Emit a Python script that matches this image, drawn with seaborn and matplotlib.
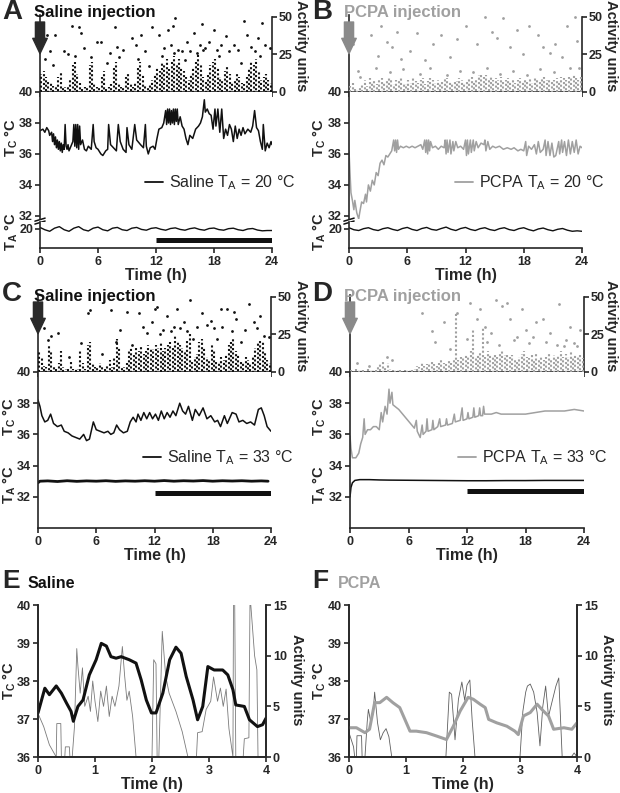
import numpy as np
import seaborn as sns
import matplotlib.pyplot as plt
from matplotlib.lines import Line2D

sns.set_style("ticks")
plt.rcParams["font.family"] = ["Liberation Sans", "DejaVu Sans"]
plt.rcParams["font.weight"] = "bold"
plt.rcParams["axes.labelweight"] = "bold"
plt.rcParams["mathtext.fontset"] = "custom"
plt.rcParams["mathtext.rm"] = "Liberation Sans"
plt.rcParams["mathtext.bf"] = "Liberation Sans:bold"
plt.rcParams["axes.linewidth"] = 1.2
plt.rcParams["xtick.major.width"] = 1.2
plt.rcParams["ytick.major.width"] = 1.2
plt.rcParams["xtick.major.size"] = 3.5
plt.rcParams["ytick.major.size"] = 3.5
plt.rcParams["xtick.major.pad"] = 2
plt.rcParams["ytick.major.pad"] = 1.5
plt.rcParams["xtick.labelsize"] = 9
plt.rcParams["ytick.labelsize"] = 9

BLACK = "#111111"
GREY = "#a0a0a0"

# ---------------- data ----------------
hours_ticks = [0, 6, 12, 18, 24]
dark_phase = (12, 24)

# activity, max height of the dense column in each 15 min bin (0-24 h)
act_a_cols = [12, 14, 10, 8, 6, 4, 3, 10, 14, 4, 3, 3, 8, 18, 20, 12,
              6, 3, 3, 4, 18, 20, 6, 3, 4, 10, 14, 3, 3, 5, 16, 20,
              6, 3, 4, 10, 12, 5, 3, 6, 16, 20, 12, 4, 3, 5, 8, 12,
              16, 14, 20, 18, 22, 15, 20, 24, 18, 22, 16, 14, 10, 8, 12, 16,
              20, 25, 18, 10, 8, 12, 18, 20, 22, 16, 10, 8, 14, 18, 12, 6,
              8, 12, 10, 6, 5, 10, 16, 20, 18, 22, 14, 8, 10, 12, 8, 6]
act_b_cols = [4, 6, 3, 2, 3, 5, 8, 4, 9, 6, 8, 5, 8, 9, 6, 7,
              9, 8, 5, 8, 7, 9, 6, 5, 8, 6, 9, 7, 6, 8, 9, 5,
              7, 9, 8, 6, 8, 6, 7, 9, 9, 7, 6, 8, 7, 9, 8, 6,
              8, 9, 10, 7, 9, 11, 12, 10, 11, 9, 10, 8, 9, 8, 10, 7,
              8, 9, 7, 8, 6, 8, 9, 7, 8, 7, 9, 6, 9, 8, 7, 9,
              10, 8, 9, 7, 8, 9, 7, 10, 9, 8, 10, 9, 11, 9, 8, 10]
act_c_cols = [14, 10, 4, 3, 18, 14, 4, 2, 6, 14, 3, 2, 2, 8, 2, 2,
              2, 14, 6, 2, 18, 20, 6, 3, 3, 6, 3, 2, 4, 8, 3, 10,
              22, 16, 4, 3, 6, 14, 16, 12, 16, 14, 18, 12, 14, 18, 16, 15,
              18, 16, 20, 14, 16, 18, 20, 17, 24, 20, 18, 16, 14, 22, 26, 8,
              10, 12, 20, 22, 16, 10, 8, 18, 14, 8, 6, 10, 8, 12, 18, 20,
              22, 14, 12, 8, 6, 10, 8, 6, 10, 16, 20, 22, 20, 14, 8, 6]
act_d_cols = [0, 0, 2, 0, 0, 0, 0, 3, 0, 0, 0, 4, 6, 8, 4, 6,
              2, 0, 0, 0, 0, 0, 0, 0, 0, 0, 2, 4, 3, 6, 4, 5,
              6, 8, 5, 4, 6, 8, 6, 5, 7, 6, 8, 40, 8, 10, 9, 12,
              10, 14, 28, 10, 12, 14, 30, 10, 14, 12, 10, 12, 10, 12, 14, 11,
              12, 10, 11, 9, 8, 10, 12, 14, 10, 9, 11, 8, 12, 9, 10, 8,
              10, 12, 8, 11, 9, 11, 14, 10, 12, 10, 13, 9, 11, 10, 12, 9]

# isolated activity counts (time h, units)
act_a_dots = [(0.76, 38), (1.6, 38), (2.5, 27), (3.3, 44), (4.0, 43), (4.2, 39),
              (5.9, 33), (6.3, 33), (7.8, 43), (8.0, 30), (9.5, 36), (9.9, 31),
              (10.4, 38), (11.6, 43), (12.3, 38), (13.2, 41), (13.8, 44), (14.0, 49),
              (14.7, 27), (15.2, 33), (15.9, 39), (16.6, 31), (16.8, 45), (17.5, 33),
              (18.0, 41), (18.7, 31), (19.2, 37), (20.1, 31), (21.1, 47), (21.4, 38),
              (22.5, 36), (23.0, 46), (23.3, 31), (23.8, 29), (1.0, 27), (2.9, 25),
              (4.6, 29), (7.2, 26), (8.6, 28), (10.9, 27), (12.8, 29), (13.5, 31),
              (14.3, 28), (15.5, 27), (17.1, 29), (18.3, 28), (19.6, 27), (20.5, 28),
              (21.8, 30), (22.2, 27), (12.6, 24), (16.2, 26), (0.5, 22), (1.3, 18),
              (3.6, 24), (5.3, 23), (6.9, 19), (8.2, 23), (10.1, 22), (11.3, 17),
              (13.9, 26), (15.0, 21), (16.9, 28), (18.5, 24), (20.8, 19), (22.8, 24)]
act_b_dots = [(0.4, 32), (0.9, 14), (2.3, 38), (3.0, 24), (3.3, 44), (3.9, 33),
              (4.4, 30), (4.9, 40), (5.4, 22), (6.3, 27), (7.0, 39), (7.8, 21),
              (8.7, 32), (9.5, 38), (10.4, 23), (11.1, 35), (12.1, 44), (13.2, 32),
              (14.0, 50), (14.7, 40), (15.2, 36), (15.9, 49), (16.6, 30), (17.3, 41),
              (17.9, 25), (18.5, 44), (19.5, 38), (20.0, 30), (20.7, 26), (21.2, 32),
              (21.9, 23), (22.5, 44), (23.3, 50), (23.5, 34), (23.7, 16),
              (1.1, 10), (2.8, 16), (4.2, 13), (5.6, 15), (7.3, 12), (8.3, 16),
              (10.1, 11), (11.4, 14), (12.8, 13), (14.2, 16), (15.6, 12), (16.9, 14),
              (18.3, 11), (19.7, 15), (21.1, 13), (22.8, 16)]
act_c_dots = [(0.3, 38), (0.6, 29), (1.3, 24), (2.1, 26), (3.2, 10), (5.2, 39),
              (5.4, 41), (7.5, 41), (8.0, 20), (9.2, 40), (9.7, 18), (10.4, 39),
              (11.2, 26), (12.0, 42), (12.3, 43), (12.9, 28), (13.3, 37), (14.0, 30),
              (14.3, 42), (15.0, 33), (15.7, 48), (16.0, 22), (16.9, 39), (17.4, 31),
              (18.1, 29), (18.8, 42), (19.5, 42), (20.2, 40), (20.4, 35), (20.9, 20),
              (21.7, 45), (22.2, 33), (22.9, 37), (23.3, 24), (23.8, 23),
              (10.8, 30), (11.7, 33), (13.7, 27), (14.6, 29), (16.4, 30), (17.8, 34),
              (19.0, 30), (21.3, 28), (22.6, 29), (1.0, 21), (4.4, 19), (6.6, 12),
              (8.4, 28), (12.6, 25), (15.3, 27), (18.4, 22), (20.0, 27)]
act_d_dots = [(0.7, 6), (1.9, 4), (3.8, 10), (4.3, 8), (7.4, 39), (8.4, 27),
              (8.7, 20), (9.6, 33), (10.3, 15), (11.0, 39), (12.3, 46), (13.0, 35),
              (13.3, 42), (13.8, 30), (14.5, 26), (15.0, 48), (15.6, 44), (16.1, 46),
              (16.4, 35), (17.1, 23), (17.6, 42), (18.1, 28), (18.8, 23), (19.1, 33),
              (19.8, 35), (20.5, 26), (21.4, 45), (21.9, 17), (22.6, 30), (23.3, 17),
              (23.6, 28), (12.0, 22), (14.0, 20), (15.3, 18), (16.8, 21), (18.4, 19),
              (20.1, 20), (21.2, 18), (22.2, 21), (23.0, 19)]

# core temperature traces (time h, degC)
tc_a = [(0.0, 37.5), (0.3, 37.6), (0.5, 37.4), (0.7, 37.7), (0.9, 37.5), (1.0, 37.2),
        (1.2, 37.4), (1.3, 36.8), (1.4, 37.3), (1.5, 36.6), (1.6, 37.1), (1.7, 36.4),
        (1.8, 36.9), (1.9, 36.3), (2.0, 36.8), (2.1, 36.2), (2.2, 36.7), (2.3, 36.1),
        (2.4, 36.6), (2.5, 36.3), (2.6, 37.9), (2.7, 36.5), (2.8, 36.3), (2.9, 36.6),
        (3.0, 36.2), (3.2, 36.5), (3.4, 36.8), (3.5, 37.9), (3.6, 36.5), (3.7, 37.9),
        (3.8, 36.4), (3.9, 37.9), (4.0, 36.3), (4.1, 37.8), (4.2, 36.6), (4.4, 36.9),
        (4.6, 36.3), (4.8, 36.2), (5.0, 36.5), (5.3, 36.3), (5.5, 37.9), (5.6, 36.8),
        (5.8, 36.4), (6.0, 36.3), (6.3, 36.0), (6.5, 35.9), (6.8, 36.2), (7.0, 36.3),
        (7.1, 37.9), (7.3, 36.6), (7.6, 36.4), (7.9, 36.2), (8.1, 37.9), (8.3, 36.8),
        (8.6, 36.3), (8.9, 36.1), (9.0, 37.7), (9.2, 36.6), (9.5, 36.3), (9.8, 37.9),
        (10.0, 36.9), (10.4, 36.6), (10.7, 36.4), (10.9, 37.9), (11.0, 36.5), (11.2, 36.0),
        (11.4, 36.4), (11.7, 36.5), (11.9, 36.3), (12.1, 37.0), (12.3, 37.6), (12.6, 37.7),
        (12.8, 38.0), (13.0, 38.8), (13.1, 37.9), (13.2, 38.9), (13.3, 38.0), (13.4, 38.9),
        (13.5, 37.9), (13.6, 38.8), (13.7, 38.0), (13.8, 38.9), (13.9, 37.9), (14.0, 38.9),
        (14.1, 38.1), (14.2, 38.9), (14.3, 37.9), (14.5, 38.4), (14.7, 37.8), (14.9, 37.6),
        (15.1, 37.0), (15.3, 36.6), (15.5, 37.2), (15.8, 37.0), (16.1, 37.6), (16.4, 37.8),
        (16.6, 38.0), (16.8, 38.4), (17.0, 39.5), (17.1, 38.7), (17.3, 38.9), (17.5, 38.6),
        (17.7, 38.5), (17.9, 37.6), (18.1, 38.9), (18.2, 37.8), (18.4, 38.9), (18.6, 37.4),
        (18.8, 38.9), (19.0, 37.0), (19.2, 37.6), (19.4, 37.2), (19.6, 37.9), (19.8, 37.6),
        (20.0, 36.8), (20.2, 37.8), (20.4, 37.0), (20.6, 37.6), (20.8, 37.2), (21.0, 37.7),
        (21.2, 37.3), (21.5, 37.6), (21.8, 37.4), (22.0, 37.8), (22.2, 38.8), (22.4, 37.7),
        (22.6, 37.5), (22.8, 36.8), (23.0, 36.3), (23.1, 37.9), (23.3, 36.2), (23.5, 36.7),
        (23.7, 36.4), (23.9, 36.8), (24.0, 36.6)]
tc_b = [(0.0, 36.2), (0.1, 34.8), (0.2, 33.5), (0.35, 33.0), (0.5, 32.4), (0.6, 33.0),
        (0.8, 32.2), (1.0, 31.8), (1.1, 32.2), (1.3, 32.9), (1.5, 32.8), (1.7, 33.4),
        (1.8, 32.9), (2.0, 34.0), (2.2, 33.6), (2.4, 34.3), (2.6, 34.0), (2.8, 34.8),
        (3.0, 34.6), (3.2, 35.4), (3.4, 35.6), (3.6, 35.3), (3.8, 35.9), (4.0, 35.8),
        (4.2, 36.0), (4.4, 36.2), (4.6, 36.9), (4.7, 36.2), (4.8, 36.9), (4.9, 36.1),
        (5.0, 36.9), (5.1, 36.3), (5.3, 36.5), (5.6, 36.4), (5.9, 36.5), (6.2, 36.4),
        (6.5, 36.5), (6.8, 36.4), (7.1, 36.5), (7.4, 36.6), (7.6, 36.3), (7.8, 36.9),
        (7.9, 36.1), (8.0, 36.9), (8.1, 36.0), (8.2, 36.9), (8.3, 36.2), (8.4, 36.8),
        (8.6, 36.4), (8.9, 36.5), (9.2, 36.3), (9.5, 36.5), (9.8, 36.4), (9.9, 36.9),
        (10.0, 36.0), (10.1, 36.9), (10.2, 36.1), (10.4, 36.9), (10.5, 36.0), (10.7, 36.8),
        (10.8, 36.2), (11.0, 36.8), (11.2, 36.4), (11.5, 36.5), (11.8, 36.3), (12.0, 36.9),
        (12.1, 35.9), (12.2, 36.9), (12.3, 36.0), (12.5, 36.9), (12.6, 36.1), (12.8, 36.9),
        (12.9, 36.2), (13.1, 36.8), (13.3, 36.4), (13.6, 36.7), (13.9, 36.6), (14.0, 36.9),
        (14.1, 36.2), (14.3, 36.8), (14.5, 36.3), (14.8, 36.5), (15.1, 36.4), (15.5, 36.5),
        (15.9, 36.3), (16.3, 36.4), (16.7, 36.3), (17.0, 36.4), (17.4, 36.2), (17.7, 36.3),
        (18.0, 36.2), (18.2, 36.8), (18.3, 35.9), (18.5, 36.5), (18.8, 36.3), (19.1, 36.6),
        (19.3, 36.0), (19.5, 36.8), (19.7, 36.1), (20.0, 36.3), (20.2, 36.9), (20.3, 35.9),
        (20.5, 36.8), (20.7, 35.9), (20.9, 36.7), (21.1, 35.8), (21.3, 35.9), (21.6, 36.8),
        (21.7, 36.0), (21.9, 36.9), (22.0, 36.1), (22.2, 36.8), (22.4, 35.9), (22.6, 36.9),
        (22.8, 36.0), (23.0, 36.8), (23.2, 36.1), (23.4, 36.9), (23.6, 36.0), (23.8, 36.5),
        (24.0, 36.4)]
tc_c = [(0.0, 38.2), (0.2, 37.8), (0.4, 37.2), (0.7, 36.8), (1.0, 36.9), (1.3, 37.3),
        (1.6, 36.7), (2.0, 36.5), (2.4, 36.6), (2.7, 36.2), (3.1, 36.1), (3.5, 35.9),
        (3.9, 35.8), (4.3, 35.7), (4.7, 36.0), (5.0, 35.6), (5.3, 35.7), (5.7, 36.8),
        (6.0, 36.3), (6.4, 36.2), (6.8, 36.1), (7.2, 36.2), (7.5, 36.0), (7.8, 36.1),
        (8.1, 36.6), (8.4, 36.3), (8.8, 36.1), (9.2, 36.2), (9.5, 36.8), (9.8, 37.1),
        (10.1, 36.8), (10.3, 37.3), (10.6, 36.9), (10.9, 37.4), (11.2, 37.0), (11.5, 37.4),
        (11.8, 37.0), (12.1, 37.3), (12.4, 36.9), (12.7, 37.5), (13.0, 37.0), (13.3, 37.4),
        (13.6, 37.1), (13.9, 37.5), (14.2, 37.2), (14.6, 38.0), (14.9, 37.5), (15.2, 37.3),
        (15.5, 37.8), (15.9, 36.9), (16.2, 37.6), (16.6, 37.2), (17.0, 37.7), (17.4, 37.0),
        (17.8, 37.2), (18.2, 36.8), (18.5, 36.9), (18.8, 36.5), (19.2, 37.2), (19.5, 36.7),
        (20.0, 37.4), (20.4, 37.3), (20.7, 36.8), (21.1, 36.9), (21.5, 36.7), (21.9, 36.8),
        (22.3, 36.6), (22.7, 37.6), (23.0, 37.7), (23.3, 37.2), (23.6, 36.5), (24.0, 36.2)]
tc_d = [(0.0, 35.9), (0.1, 35.1), (0.25, 34.5), (0.6, 34.5), (0.9, 34.8), (1.1, 35.4),
        (1.3, 35.8), (1.45, 37.0), (1.55, 36.0), (1.8, 36.3), (2.1, 36.3), (2.4, 36.5),
        (2.7, 36.5), (3.0, 36.3), (3.2, 37.4), (3.35, 36.8), (3.6, 37.8), (3.8, 37.3),
        (4.0, 38.9), (4.1, 38.0), (4.3, 38.7), (4.4, 37.9), (4.6, 37.8), (5.0, 37.6),
        (5.4, 37.3), (5.8, 37.0), (6.2, 36.7), (6.6, 36.4), (6.8, 36.9), (6.9, 36.2),
        (7.2, 35.8), (7.4, 36.6), (7.5, 36.0), (7.8, 36.2), (7.9, 37.0), (8.0, 36.2),
        (8.4, 36.3), (8.5, 36.9), (8.6, 36.3), (9.0, 36.5), (9.2, 37.0), (9.3, 36.5),
        (9.8, 36.6), (9.9, 37.0), (10.0, 36.6), (10.5, 36.7), (10.7, 37.3), (10.8, 36.8),
        (11.3, 36.9), (11.5, 37.7), (11.6, 36.9), (12.0, 37.0), (12.1, 37.4), (12.2, 37.0),
        (12.6, 37.1), (12.7, 37.7), (12.8, 37.1), (13.2, 37.2), (13.3, 37.7), (13.4, 37.2),
        (13.6, 37.2), (13.7, 37.8), (13.8, 37.3), (14.5, 37.3), (15.0, 37.4), (15.5, 37.3),
        (16.0, 37.3), (17.0, 37.3), (18.0, 37.3), (19.0, 37.4), (20.0, 37.5), (21.0, 37.5),
        (22.0, 37.5), (23.0, 37.6), (24.0, 37.5)]

# ambient temperature (every 0.5 h for A, B)
ta_a = [20.1, 19.95, 19.85, 20.05, 20.15, 19.95, 19.85, 20.05, 20.15, 19.95, 19.87, 20.05,
        20.12, 19.95, 19.88, 20.05, 20.1, 19.95, 19.9, 20.05, 20.1, 19.97, 19.92, 20.04,
        20.08, 19.98, 19.92, 20.03, 20.07, 19.97, 19.92, 20.02, 20.07, 19.97, 19.92, 20.03,
        20.06, 19.96, 19.92, 20.02, 20.05, 19.95, 19.9, 20.0, 20.03, 19.93, 19.88, 19.9, 19.9]
ta_b = [20.08, 19.95, 19.9, 20.02, 20.08, 19.96, 19.9, 20.02, 20.08, 19.97, 19.9, 20.03,
        20.1, 19.97, 19.9, 20.03, 20.1, 19.97, 19.92, 20.03, 20.12, 19.98, 19.9, 20.03,
        20.1, 19.97, 19.9, 20.02, 20.08, 19.96, 19.9, 20.02, 20.08, 19.96, 19.9, 20.02,
        20.08, 19.96, 19.88, 20.0, 20.06, 19.95, 19.88, 19.98, 20.03, 19.92, 19.85, 19.88, 19.85]
ta_c = [(0, 32.9), (0.2, 33.0), (1, 33.02), (2, 32.98), (3, 33.03), (4, 32.99), (5, 33.02),
        (6, 33.0), (7, 33.03), (8, 32.99), (9, 33.02), (10, 33.0), (11, 33.03), (12, 33.0),
        (13, 33.04), (14, 33.0), (15, 33.03), (16, 33.01), (17, 33.04), (18, 33.0),
        (19, 33.03), (20, 33.01), (21, 33.03), (22, 33.0), (23, 33.02), (23.7, 33.0)]
ta_d = [(0, 32.0), (0.1, 32.6), (0.25, 32.9), (0.5, 33.05), (1, 33.1), (2, 33.1), (3, 33.08),
        (4, 33.07), (6, 33.06), (8, 33.05), (10, 33.04), (12, 33.03), (14, 33.03), (16, 33.04),
        (18, 33.04), (20, 33.05), (22, 33.05), (24, 33.05)]

# zoomed 4 h windows (time h, value)
tc_e = [(0.0, 37.16), (0.12, 37.81), (0.2, 37.64), (0.32, 37.87), (0.41, 37.68), (0.5, 37.42),
        (0.58, 37.2), (0.62, 36.94), (0.7, 37.33), (0.79, 37.5), (0.9, 38.16), (1.02, 38.56),
        (1.11, 38.99), (1.2, 38.92), (1.28, 38.64), (1.37, 38.6), (1.46, 38.64), (1.6, 38.56),
        (1.72, 38.47), (1.81, 38.03), (1.9, 37.5), (1.99, 37.16), (2.07, 37.16), (2.19, 37.68),
        (2.31, 38.56), (2.42, 38.89), (2.51, 38.73), (2.6, 38.12), (2.72, 37.5), (2.8, 36.98),
        (2.89, 37.33), (2.98, 38.38), (3.09, 38.29), (3.24, 38.29), (3.33, 38.16), (3.42, 37.77),
        (3.47, 37.37), (3.62, 37.33), (3.71, 36.98), (3.85, 36.8), (3.94, 36.85), (4.0, 37.02)]
act_e = [(0.0, 4.3), (0.1, 3.0), (0.2, 1.2), (0.3, 0.2), (0.32, 0), (0.33, 3.3), (0.4, 3.3),
         (0.41, 0), (0.47, 0), (0.48, 1.0), (0.55, 1.0), (0.56, 0), (0.6, 0), (0.64, 3),
         (0.68, 10.7), (0.7, 9), (0.74, 6.3), (0.78, 8.8), (0.82, 5), (0.88, 6), (0.92, 4.5),
         (0.96, 7.5), (1.0, 5.5), (1.05, 3.5), (1.1, 6.5), (1.15, 5), (1.2, 7), (1.25, 4),
         (1.3, 6), (1.35, 5), (1.42, 7), (1.48, 10.9), (1.52, 8), (1.56, 5.6), (1.6, 6.5),
         (1.66, 4), (1.72, 0), (2.0, 0), (2.03, 9.6), (2.07, 9.2), (2.09, 0), (2.12, 0),
         (2.18, 12.4), (2.24, 8), (2.3, 6.3), (2.42, 4.5), (2.53, 2.5), (2.63, 0), (2.78, 0),
         (2.8, 2.4), (2.88, 2.5), (2.95, 4.7), (3.03, 5.5), (3.08, 7.9), (3.15, 5.5), (3.2, 6.8),
         (3.25, 5), (3.3, 6.7), (3.35, 2.8), (3.42, 0), (3.43, 16), (3.45, 16), (3.47, 0),
         (3.6, 0), (3.62, 1.8), (3.7, 1.9), (3.72, 16), (3.8, 10), (3.84, 8.6), (3.86, 0), (4.0, 0)]
tc_f = [(0.0, 36.77), (0.13, 36.77), (0.28, 36.64), (0.36, 36.73), (0.45, 37.43), (0.54, 37.43),
        (0.66, 37.57), (0.77, 37.43), (0.89, 37.3), (0.98, 36.99), (1.07, 36.68), (1.18, 36.68),
        (1.36, 36.64), (1.54, 36.55), (1.71, 36.46), (1.83, 36.81), (1.95, 37.21), (2.09, 37.57),
        (2.18, 37.52), (2.3, 37.39), (2.39, 37.3), (2.45, 36.99), (2.59, 36.9), (2.77, 36.81),
        (2.91, 36.68), (2.97, 36.59), (3.06, 37.08), (3.18, 37.17), (3.3, 37.39), (3.41, 37.21),
        (3.5, 37.08), (3.59, 36.73), (3.77, 36.77), (3.91, 36.73), (4.0, 36.9)]
act_f = [(0.0, 2.4), (0.08, 1.0), (0.1, 0), (0.13, 0), (0.14, 2.1), (0.22, 2.1), (0.23, 0),
         (0.28, 0), (0.32, 3.5), (0.34, 4.7), (0.38, 3.5), (0.42, 4.2), (0.45, 6.4), (0.5, 3.4),
         (0.55, 1.7), (0.6, 2.4), (0.65, 2.8), (0.7, 2.0), (0.75, 0), (1.7, 0), (1.76, 6.4),
         (1.8, 6.2), (1.86, 1.7), (1.92, 5.7), (1.98, 7.4), (2.03, 5.6), (2.07, 7.1), (2.12, 7.6),
         (2.16, 3.7), (2.21, 0), (3.0, 0), (3.05, 4.5), (3.1, 6.4), (3.13, 7.0), (3.18, 7.2),
         (3.24, 6.4), (3.3, 4.4), (3.35, 1.1), (3.4, 5.0), (3.45, 7.0), (3.5, 4.0), (3.56, 5.4),
         (3.63, 7.0), (3.68, 7.8), (3.74, 0), (3.9, 0), (3.95, 0.4), (4.0, 0)]

# ---------------- figure ----------------
W, H = 620, 793
fig = plt.figure(figsize=(W / 100, H / 100), dpi=100)


def axes_px(x0, y0, x1, y1):
    return fig.add_axes([x0 / W, 1 - y1 / H, (x1 - x0) / W, (y1 - y0) / H])


def bold_ticks(ax):
    for lab in ax.get_xticklabels() + ax.get_yticklabels():
        lab.set_fontweight("bold")


def draw_line(ax, pairs, color, lw):
    arr = np.array(pairs, dtype=float)
    sns.lineplot(x=arr[:, 0], y=arr[:, 1], ax=ax, color=color, lw=lw,
                 estimator=None, sort=False)


def activity_panel(x0, x1, y0, y1, cols, dots, color, floor):
    ax = axes_px(x0, y0, x1, y1)
    t = np.arange(len(cols)) * 0.25 + 0.125
    # stacked dots: vary the dot phase between columns so rows don't line up
    styles = [(((k * 7) % 5) * 0.42, (1.0, 1.1)) for k in range(len(cols))]
    ax.vlines(t, 0, np.maximum(cols, floor), colors=color, linewidth=1.5,
              linestyles=styles, zorder=3)
    d = np.array(dots, dtype=float)
    sns.scatterplot(x=d[:, 0], y=d[:, 1], ax=ax, color=color, s=4, linewidth=0, zorder=3)
    ax.set_xlim(0, 24)
    ax.set_ylim(0, 51.5)
    ax.set_xticks(hours_ticks)
    ax.set_xticklabels([])
    ax.yaxis.tick_right()
    ax.set_yticks([0, 25, 50])
    ax.spines["top"].set_visible(False)
    ax.spines["right"].set_bounds(0, 50)
    bold_ticks(ax)
    return ax


def arrow(ax, color):
    ax.annotate("", xy=(0, 25.5), xytext=(0, 46.5), annotation_clip=False,
                arrowprops=dict(arrowstyle="simple,head_length=1.0,head_width=0.95,tail_width=0.6",
                                color=color, mutation_scale=11, shrinkA=0, shrinkB=0))


def time_axis(ax):
    ax.set_xlim(0, 24)
    ax.set_xticks(hours_ticks)
    ax.set_xlabel("Time (h)", fontsize=11.5, labelpad=0)


def vlabel(x, y, s, size=10.5):
    fig.text(x / W, 1 - y / H, s, rotation=90, ha="center", va="center", fontsize=size)


def legend(ax, x, y, color, label):
    h = [Line2D([], [], color=color, lw=1.3)]
    ax.legend(h, [label], loc="center left", bbox_to_anchor=(x / W, 1 - y / H),
              bbox_transform=fig.transFigure, frameon=False, handlelength=1.1,
              handletextpad=0.4, borderpad=0, borderaxespad=0,
              prop={"weight": "normal", "size": 11.5})


def night_bar(ax, y):
    ax.plot(dark_phase, [y, y], color=BLACK, lw=3.6, solid_capstyle="butt")


# ----- A and B (TA = 20 degC, broken axis) -----
for col, (x0, x1, cols, dots, tc, ta, c, title, letter, leg) in enumerate([
        (40, 272, act_a_cols, act_a_dots, tc_a, ta_a, BLACK, "Saline injection", "A",
         "Saline T$_\\mathregular{A}$ = 20 °C"),
        (349, 582, act_b_cols, act_b_dots, tc_b, ta_b, GREY, "PCPA injection", "B",
         "PCPA T$_\\mathregular{A}$ = 20 °C")]):
    off = 310 * col
    ax_act = activity_panel(x0, x1, 14.5, 92, cols, dots, c, 2.5 if col == 0 else 1.0)
    arrow(ax_act, "#2a2a2a" if col == 0 else "#8a8a8a")

    ax_tc = axes_px(x0, 92, x1, 219)
    draw_line(ax_tc, tc, c, 1.1)
    ax_tc.set_xlim(0, 24)
    ax_tc.set_ylim(31.8, 40)
    ax_tc.set_yticks([32, 34, 36, 38, 40])
    ax_tc.set_xticks([])
    for sp in ("top", "right", "bottom"):
        ax_tc.spines[sp].set_visible(False)
    for yy in (-0.005, -0.028):
        ax_tc.plot([-0.022, 0.022], [yy - 0.012, yy + 0.012], transform=ax_tc.transAxes,
                   color=BLACK, lw=1.1, clip_on=False)
    bold_ticks(ax_tc)

    ax_ta = axes_px(x0, 222, x1, 248)
    t_half = np.arange(len(ta)) * 0.5
    sns.lineplot(x=t_half, y=ta, ax=ax_ta, color=BLACK, lw=1.0)
    if col == 0:
        night_bar(ax_ta, 19.29)
    ax_ta.set_ylim(18.77, 20.45)
    ax_ta.set_yticks([20])
    time_axis(ax_ta)
    ax_ta.spines["top"].set_visible(False)
    ax_ta.spines["right"].set_visible(False)
    bold_ticks(ax_ta)

    legend(ax_tc, 145 + off, 183, c, leg)
    fig.text((2 + off) / W, 1 - 12 / H, letter, fontsize=20, va="center")
    fig.text((34 + off) / W, 1 - 12 / H, title, fontsize=12, va="center",
             color=BLACK if col == 0 else GREY)
    vlabel(11 + off - 2 * col, 137, "T$_\\mathregular{C}$ °C")
    vlabel(11 + off - 2 * col, 231, "T$_\\mathregular{A}$ °C")
    fig.text((301 + off) / W, 1 - 46 / H, "Activity units", rotation=270,
             ha="center", va="center", fontsize=10.5)

# ----- C and D (TA = 33 degC) -----
for col, (x0, x1, cols, dots, tc, ta, c, title, letter, leg, bar_y) in enumerate([
        (38, 271, act_c_cols, act_c_dots, tc_c, ta_c, BLACK, "Saline injection", "C",
         "Saline T$_\\mathregular{A}$ = 33 °C", 32.22),
        (350, 584, act_d_cols, act_d_dots, tc_d, ta_d, GREY, "PCPA injection", "D",
         "PCPA T$_\\mathregular{A}$ = 33 °C", 32.35)]):
    off = 310 * col
    ax_act = activity_panel(x0, x1, 294.5, 372, cols, dots, c, 2.0 if col == 0 else 1.0)
    arrow(ax_act, "#2a2a2a" if col == 0 else "#8a8a8a")

    ax_tc = axes_px(x0, 372, x1, 528)
    draw_line(ax_tc, tc, c, 1.1)
    draw_line(ax_tc, ta, BLACK, 2.0 if col == 0 else 1.1)
    night_bar(ax_tc, bar_y)
    ax_tc.set_ylim(30, 40)
    ax_tc.set_yticks([32, 34, 36, 38, 40])
    time_axis(ax_tc)
    ax_tc.spines["top"].set_visible(False)
    ax_tc.spines["right"].set_visible(False)
    bold_ticks(ax_tc)

    legend(ax_tc, (143 if col == 0 else 148) + off, 458, c, leg)
    fig.text((2 + off) / W, 1 - 294 / H, letter, fontsize=20, va="center")
    fig.text((34 + off) / W, 1 - 296 / H, title, fontsize=12, va="center",
             color=BLACK if col == 0 else GREY)
    vlabel(9 + off, 416, "T$_\\mathregular{C}$ °C")
    vlabel(9 + off, 484, "T$_\\mathregular{A}$ °C")
    fig.text((301 + off) / W, 1 - 326 / H, "Activity units", rotation=270,
             ha="center", va="center", fontsize=10.5)

# ----- E and F (4 h zoom) -----
for col, (x0, x1, tc, act, c, ac, title, letter) in enumerate([
        (38, 266, tc_e, act_e, BLACK, "#7a7a7a", "Saline", "E"),
        (349, 577, tc_f, act_f, GREY, "#5e5e5e", "PCPA", "F")]):
    off = 310 * col
    ax = axes_px(x0, 605, x1, 757)
    ax2 = ax.twinx()
    draw_line(ax2, act, ac, 0.6)
    draw_line(ax, tc, c, 2.2)
    ax.set_zorder(ax2.get_zorder() + 1)
    ax.patch.set_visible(False)
    ax.set_xlim(0, 4)
    ax.set_ylim(36, 40)
    ax.set_xticks([0, 1, 2, 3, 4])
    ax.set_yticks([36, 37, 38, 39, 40])
    ax.set_xlabel("Time (h)", fontsize=11.5, labelpad=0)
    ax2.set_ylim(0, 15)
    ax2.set_yticks([0, 5, 10, 15])
    ax.spines["top"].set_visible(False)
    ax2.spines["top"].set_visible(False)
    bold_ticks(ax)
    bold_ticks(ax2)
    fig.text((2 + off) / W, 1 - 581 / H, letter, fontsize=19, va="center")
    fig.text((28 + off) / W, 1 - 584 / H, title, fontsize=11.5, va="center",
             color=BLACK if col == 0 else GREY)
    vlabel(9 + off, 680, "T$_\\mathregular{C}$ °C")
    fig.text((297 + off) / W, 1 - 680 / H, "Activity units", rotation=270,
             ha="center", va="center", fontsize=10.5)

fig.savefig("out.png", dpi=100)
